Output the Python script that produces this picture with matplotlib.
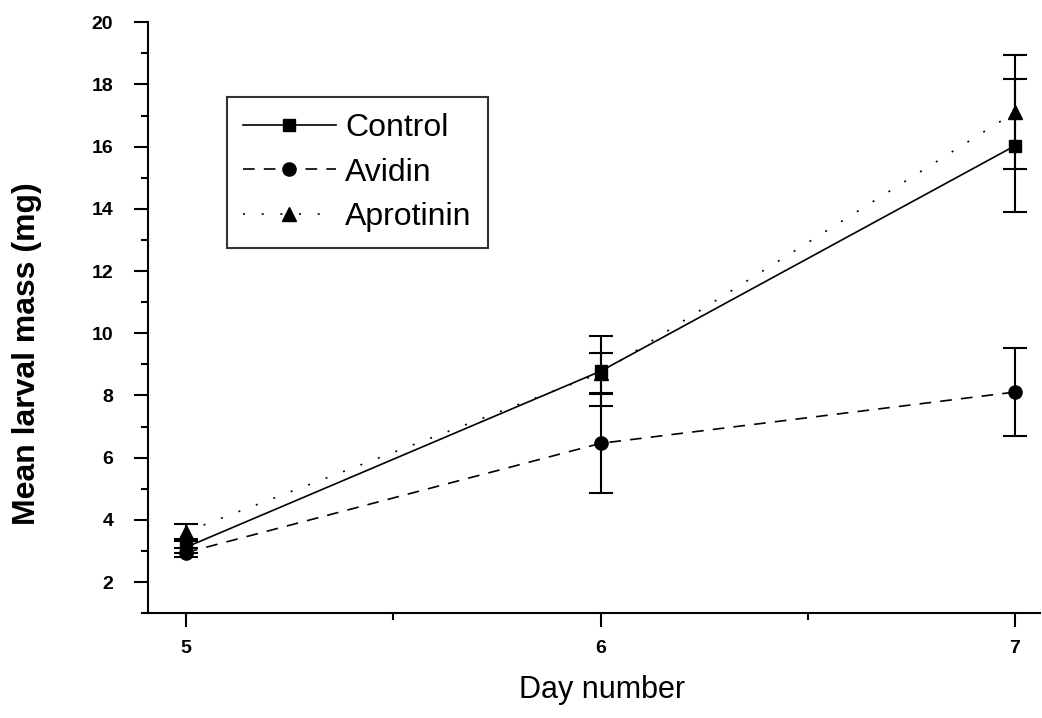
import numpy as np
import matplotlib
matplotlib.use("Agg")
import matplotlib.pyplot as plt
from matplotlib.ticker import MultipleLocator
from matplotlib.lines import Line2D

plt.rcParams["font.family"] = ["Liberation Sans", "DejaVu Sans"]

# ============ DATA ============
days = [5, 6, 7]
control = [3.12, 8.78, 16.03]
control_err = [0.2, 1.12, 2.14]
avidin = [2.95, 6.46, 8.11]
avidin_err = [0.15, 1.6, 1.42]
aprotinin = [3.62, 8.72, 17.11]
aprotinin_err = [0.25, 0.65, 1.83]

# ============ PLOT ============
fig = plt.figure(figsize=(10.42, 7.18), dpi=100)
ax = fig.add_axes([0.142, 0.146, 0.856, 0.823])

lw = 1.2
ekw = dict(ecolor="black", elinewidth=1.5, capsize=8.5, capthick=1.5)
styles = {
    "Control": dict(ls="-", marker="s", ms=9),
    "Avidin": dict(dashes=(7, 5.5), marker="o", ms=9.5),
    "Aprotinin": dict(dashes=(1.2, 10), marker="^", ms=10),
}
ax.errorbar(days, aprotinin, yerr=aprotinin_err, color="black", lw=lw,
            **styles["Aprotinin"], **ekw)
ax.errorbar(days, avidin, yerr=avidin_err, color="black", lw=lw,
            **styles["Avidin"], **ekw)
ax.errorbar(days, control, yerr=control_err, color="black", lw=lw,
            **styles["Control"], **ekw)

ax.set_xlim(4.908, 7.06)
ax.set_ylim(1.0, 20)
ax.xaxis.set_major_locator(MultipleLocator(1))
ax.xaxis.set_minor_locator(MultipleLocator(0.5))
ax.yaxis.set_minor_locator(MultipleLocator(1))
ax.set_yticks([2, 4, 6, 8, 10, 12, 14, 16, 18, 20])

for s in ("top", "right"):
    ax.spines[s].set_visible(False)
for s in ("left", "bottom"):
    ax.spines[s].set_linewidth(1.5)

ax.tick_params(which="major", direction="out", length=10, width=1.5,
               labelsize=14)
ax.tick_params(axis="y", which="major", pad=15)
ax.tick_params(axis="x", which="major", pad=9)
ax.tick_params(which="minor", direction="out", length=5, width=1.5)
for lab in ax.get_xticklabels() + ax.get_yticklabels():
    lab.set_fontweight("bold")

ax.set_xlabel("Day number", fontsize=22)
ax.xaxis.set_label_coords(0.509, -0.105)
ax.set_ylabel("Mean larval mass (mg)", fontsize=23, fontweight="bold")
ax.yaxis.set_label_coords(-0.119, 0.44)

names = ["Control", "Avidin", "Aprotinin"]
handles = [Line2D([], [], color="black", lw=lw, **styles[n]) for n in names]
leg = ax.legend(handles, names,
                loc="upper left", bbox_to_anchor=(0.0886, 0.873),
                borderaxespad=0, fontsize=23, frameon=True, fancybox=False,
                edgecolor="black", handlelength=2.9, handletextpad=0.3,
                labelspacing=0.45, borderpad=0.5)
leg.get_frame().set_linewidth(1.5)

fig.savefig("out.png", dpi=100)
